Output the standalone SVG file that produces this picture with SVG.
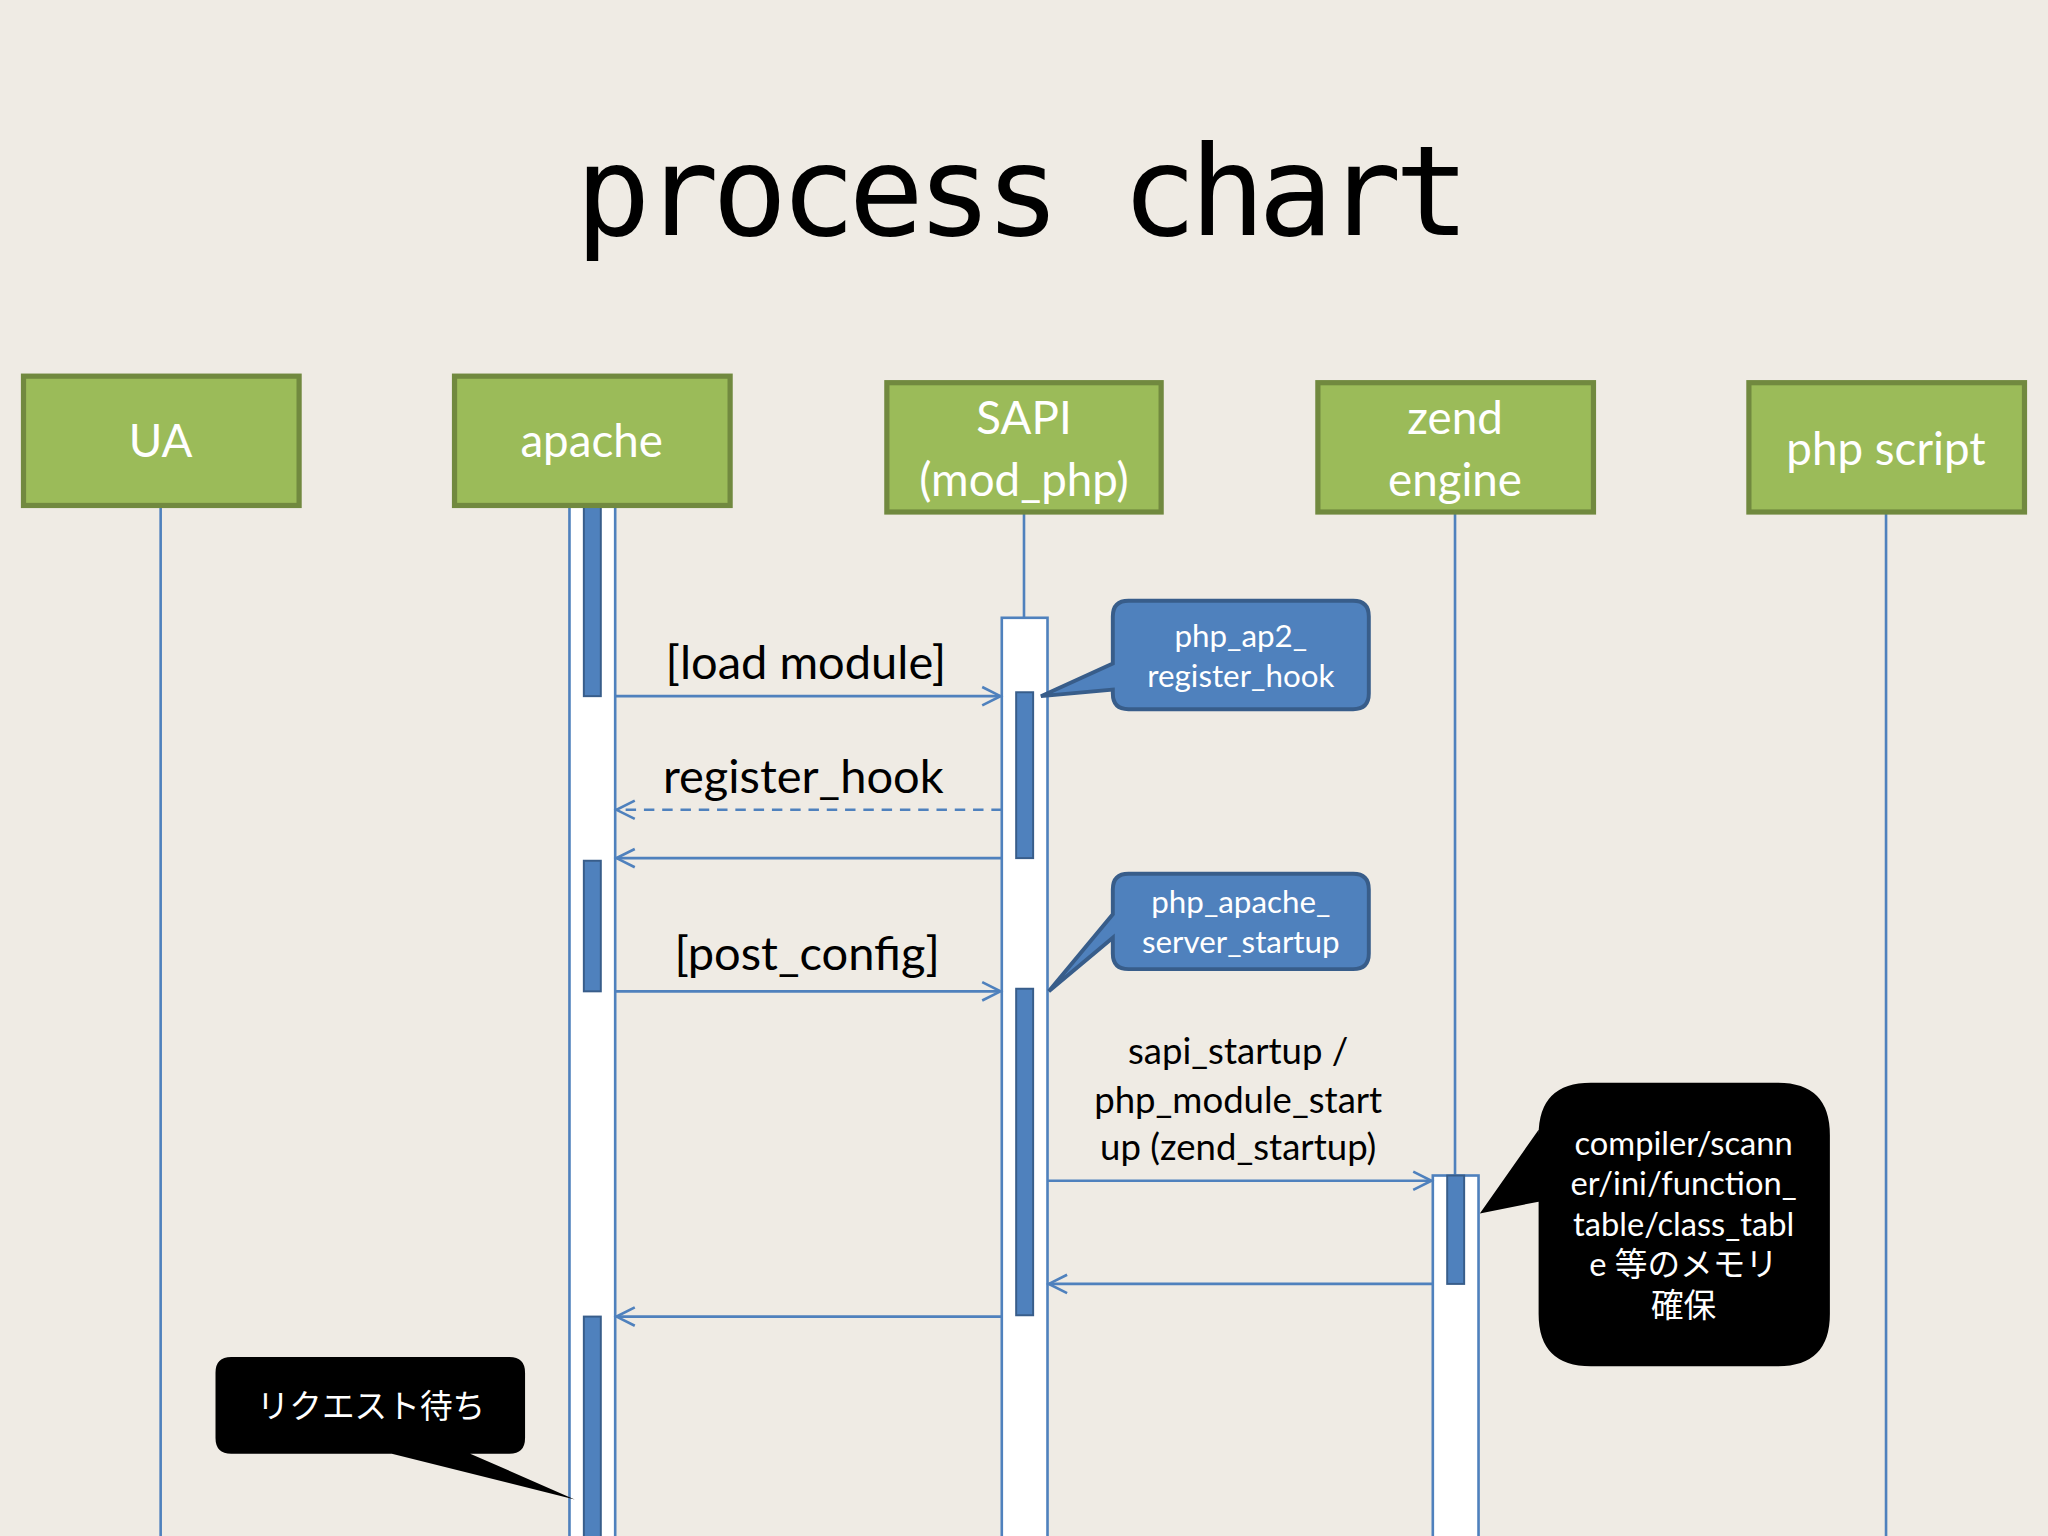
<svg xmlns="http://www.w3.org/2000/svg" width="2048" height="1536" viewBox="0 0 2048 1536">
<defs>
<style>
.box{fill:#9bbb59;stroke:#71893f;stroke-width:4}
.bt{fill:#fff;font-family:Lato,"Open Sans",sans-serif;font-size:35px;text-anchor:middle}
.life{stroke:#4f81bd;stroke-width:2;fill:none}
.act{fill:#fff;stroke:#4f81bd;stroke-width:2}
.bar{fill:#4f81bd;stroke:#385d8a;stroke-width:1.5}
.msg{stroke:#4f81bd;stroke-width:2;fill:none;marker-end:url(#ah)}
.lbl{fill:#000;font-family:Lato,"Open Sans",sans-serif;font-size:36px;text-anchor:middle}
.sm{fill:#000;font-family:Lato,"Open Sans",sans-serif;font-size:28px;text-anchor:middle}
.bc{fill:#4f81bd;stroke:#385d8a;stroke-width:3}
.ct{fill:#fff;font-family:Lato,"Open Sans","Noto Sans CJK JP",sans-serif;font-size:24px;text-anchor:middle}
.kt{fill:#fff;font-family:Lato,"Noto Sans CJK JP",sans-serif;font-size:25px;text-anchor:middle}
</style>
<marker id="ah" markerUnits="userSpaceOnUse" markerWidth="20" markerHeight="20" refX="16" refY="8" orient="auto" viewBox="0 0 20 16">
<path d="M2,1 L16,8 L2,15" fill="none" stroke="#4f81bd" stroke-width="2"/>
</marker>
</defs>
<rect width="2048" height="1536" fill="#efebe4"/>
<g transform="scale(1.306122)">
<text x="783" y="180" font-family="'DejaVu Sans Mono',monospace" font-size="96" text-anchor="middle" textLength="685" fill="#000">process chart</text>

<g id="lifelines">
<line class="life" x1="123" y1="387" x2="123" y2="1176"/>
<rect class="act" x="436" y="387" width="35" height="800"/>
<line class="life" x1="784" y1="392" x2="784" y2="473"/>
<rect class="act" x="767" y="473" width="35" height="720"/>
<line class="life" x1="1114" y1="392" x2="1114" y2="900"/>
<rect class="act" x="1097" y="900" width="35" height="300"/>
<line class="life" x1="1444" y1="392" x2="1444" y2="1176"/>
<rect class="bar" x="447" y="387" width="13" height="146"/>
<rect class="bar" x="447" y="659" width="13" height="100"/>
<rect class="bar" x="447" y="1008" width="13" height="180"/>
<rect class="bar" x="778" y="530" width="13" height="127"/>
<rect class="bar" x="778" y="757" width="13" height="250"/>
<rect class="bar" x="1108" y="900" width="13" height="83"/>
</g>

<g id="UA"><rect class="box" x="18" y="288" width="211" height="99"/><text class="bt" x="123" y="350">UA</text></g>
<g id="apache"><rect class="box" x="348" y="288" width="211" height="99"/><text class="bt" x="453" y="350">apache</text></g>
<g id="SAPI"><rect class="box" x="679" y="293" width="210" height="99"/><text class="bt" x="784" y="332">SAPI</text><text class="bt" x="784" y="380">(mod_php)</text></g>
<g id="zend"><rect class="box" x="1009" y="293" width="211" height="99"/><text class="bt" x="1114" y="332">zend</text><text class="bt" x="1114" y="380">engine</text></g>
<g id="phpscript"><rect class="box" x="1339" y="293" width="211" height="99"/><text class="bt" x="1444" y="356">php script</text></g>

<g id="connectors">
<line class="msg" x1="471" y1="533" x2="766" y2="533"/>
<line class="msg" x1="767" y1="620" x2="472" y2="620" stroke-dasharray="8,6"/>
<line class="msg" x1="767" y1="657" x2="472" y2="657"/>
<line class="msg" x1="471" y1="759" x2="766" y2="759"/>
<line class="msg" x1="802" y1="904" x2="1096" y2="904"/>
<line class="msg" x1="1097" y1="983" x2="803" y2="983"/>
<line class="msg" x1="767" y1="1008" x2="472" y2="1008"/>
<text class="lbl" x="617" y="520">[load module]</text>
<text class="lbl" x="615" y="607">register_hook</text>
<text class="lbl" x="618" y="743">[post_config]</text>
<text class="sm" x="948" y="815">sapi_startup /</text>
<text class="sm" x="948" y="852">php_module_start</text>
<text class="sm" x="948" y="888">up (zend_startup)</text>
</g>

<g id="callout1">
<path class="bc" d="M864,460 H1036 Q1048,460 1048,472 V531 Q1048,543 1036,543 H864 Q852,543 852,531 V528 L797,533 L852,508 V472 Q852,460 864,460 Z"/>
<text class="ct" x="950" y="495">php_ap2_</text><text class="ct" x="950" y="526">register_hook</text>
</g>
<g id="callout2">
<path class="bc" d="M864,669 H1036 Q1048,669 1048,681 V730 Q1048,742 1036,742 H864 Q852,742 852,730 V718 L803,759 L852,700 V681 Q852,669 864,669 Z"/>
<text class="ct" x="950" y="699">php_apache_</text><text class="ct" x="950" y="730">server_startup</text>
</g>
<g id="callout3">
<path fill="#000" d="M1218,829 H1361 Q1401,829 1401,869 V1006 Q1401,1046 1361,1046 H1218 Q1178,1046 1178,1006 V920 L1133,929 L1178,865 V869 Q1178,829 1218,829 Z"/>
<text class="kt" x="1289" y="884">compiler/scann</text>
<text class="kt" x="1289" y="915">er/ini/function_</text>
<text class="kt" x="1289" y="946">table/class_tabl</text>
<text class="kt" x="1289" y="977">e 等のメモリ</text>
<text class="kt" x="1289" y="1008">確保</text>
</g>
<g id="callout4">
<path fill="#000" d="M177,1039 H390 Q402,1039 402,1051 V1101 Q402,1113 390,1113 H360 L440,1148 L300,1113 H177 Q165,1113 165,1101 V1051 Q165,1039 177,1039 Z"/>
<text class="kt" x="284" y="1086">リクエスト待ち</text>
</g>
</g>
</svg>
